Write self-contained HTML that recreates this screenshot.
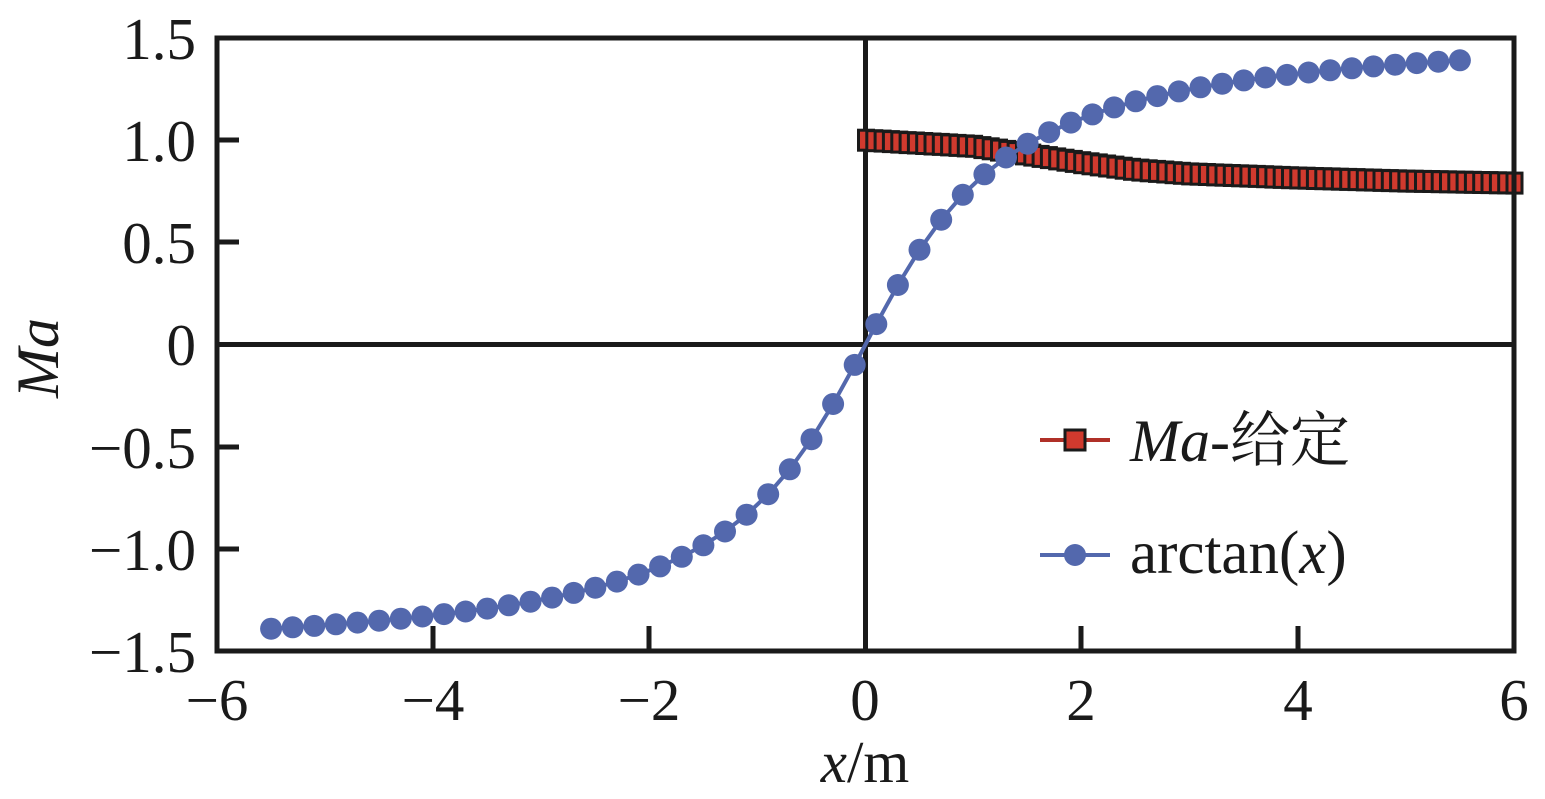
<!DOCTYPE html>
<html><head><meta charset="utf-8"><style>
html,body{margin:0;padding:0;background:#fff;}
svg{display:block;}
text{font-family:"Liberation Serif","Noto Serif CJK SC",serif;fill:#1a1a1a;}
</style></head><body>
<svg id="s" width="1545" height="799" viewBox="0 0 1545 799" xmlns="http://www.w3.org/2000/svg">
<line x1="865.5" y1="38" x2="865.5" y2="651" stroke="#1a1a1a" stroke-width="5"/>
<line x1="217" y1="344.5" x2="1514" y2="344.5" stroke="#1a1a1a" stroke-width="5"/>
<g stroke="#1a1a1a" stroke-width="5">
<line x1="433" y1="651" x2="433" y2="626"/><line x1="649" y1="651" x2="649" y2="626"/>
<line x1="1081" y1="651" x2="1081" y2="626"/><line x1="1298" y1="651" x2="1298" y2="626"/>
<line x1="217" y1="140" x2="239" y2="140"/><line x1="217" y1="242" x2="239" y2="242"/>
<line x1="217" y1="447" x2="239" y2="447"/><line x1="217" y1="549" x2="239" y2="549"/>
</g>
<g id="series"></g>
<rect x="217" y="38" width="1297" height="613" fill="none" stroke="#1a1a1a" stroke-width="5"/>
<g font-size="59" text-anchor="end">
<text x="196" y="59">1.5</text><text x="196" y="161">1.0</text><text x="196" y="263">0.5</text>
<text x="196" y="365">0</text><text x="196" y="468">−0.5</text><text x="196" y="570">−1.0</text><text x="196" y="672">−1.5</text>
</g>
<g font-size="59" text-anchor="middle">
<text x="217" y="720">−6</text><text x="433" y="720">−4</text><text x="649" y="720">−2</text>
<text x="865" y="720">0</text><text x="1081" y="720">2</text><text x="1298" y="720">4</text><text x="1514" y="720">6</text>
<text x="865" y="782"><tspan font-style="italic">x</tspan>/m</text>
</g>
<text font-size="60" font-style="italic" text-anchor="middle" transform="translate(58,358) rotate(-90)">Ma</text>
<line x1="1040" y1="440" x2="1110" y2="440" stroke="#b03028" stroke-width="4"/>
<rect x="1065" y="430" width="20" height="20" fill="#d03a2e" stroke="#1a1a1a" stroke-width="3"/>
<text x="1130" y="461" font-size="60"><tspan font-style="italic">Ma</tspan>-给定</text>
<line x1="1040" y1="555" x2="1110" y2="555" stroke="#5368ad" stroke-width="4"/>
<circle cx="1075" cy="555" r="11" fill="#5368ad"/>
<text x="1130" y="573" font-size="61">arctan(<tspan font-style="italic">x</tspan>)</text>
</svg>
<script>
var X=function(x){return 865.5+x*108.08;},Y=function(y){return 344.5-y*204.3;};
var g=document.getElementById('series'),h='';
var pts=[];for(var i=0;i<=55;i++){var x=-5.5+i*0.2;pts.push(X(x).toFixed(1)+','+Y(Math.atan(x)).toFixed(1));}
h+='<polyline points="'+pts.join(' ')+'" fill="none" stroke="#5368ad" stroke-width="4"/>';
for(var i=0;i<pts.length;i++){var p=pts[i].split(',');h+='<circle cx="'+p[0]+'" cy="'+p[1]+'" r="11" fill="#5368ad"/>';}
var k=[[0,1.0],[1,0.97],[1.5,0.93],[2,0.89],[2.5,0.855],[3,0.835],[4,0.815],[5,0.80],[6,0.79]];
function f(x){for(var j=0;j<k.length-1;j++){if(x<=k[j+1][0]){var t=(x-k[j][0])/(k[j+1][0]-k[j][0]);return k[j][1]+t*(k[j+1][1]-k[j][1]);}}return k[k.length-1][1];}
var r='';for(var i=0;i<=78;i++){var x=i*6/78;r+='<rect x="'+(X(x)-7).toFixed(1)+'" y="'+(Y(f(x))-10).toFixed(1)+'" width="15" height="20" fill="#d03a2e" stroke="#1a1a1a" stroke-width="3"/>';}
g.innerHTML=r+h;
</script>
</body></html>
